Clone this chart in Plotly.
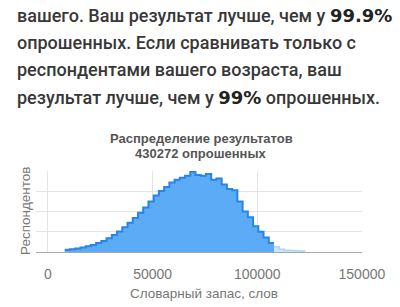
import plotly.graph_objects as go

# --- data (heights in gridline units; bins of 2500 words) ---
bin_width = 2500
main_start = 8000
main_heights = [0.11, 0.13, 0.17, 0.22, 0.28, 0.35, 0.44, 0.55, 0.68, 0.84,
                1.02, 1.22, 1.45, 1.68, 1.94, 2.2, 2.5, 2.8, 3.02, 3.22,
                3.44, 3.58, 3.68, 3.77, 3.97, 3.81, 3.77, 3.86, 3.58, 3.64,
                3.34, 3.12, 3.06, 2.5, 2.0, 1.72, 1.28, 1.0, 0.72, 0.45]
tail_start = 108000
tail_heights = [0.26, 0.14, 0.09, 0.07, 0.06, 0.05]
x_ticks = [0, 50000, 100000, 150000]
x_tick_labels = ["0", "50000", "100000", "150000"]
BIG = '<span style="font-family:\'DejaVu Sans\';font-weight:bold;color:#222">{}</span>'
paragraph = [
    "вашего. Ваш результат лучше, чем у " + BIG.format("99.9%"),
    "опрошенных. Если сравнивать только с",
    "респондентами вашего возраста, ваш",
    "результат лучше, чем у " + BIG.format("99%") + " опрошенных.",
]
chart_title = ["Распределение результатов", "430272 опрошенных"]
x_title = "Словарный запас, слов"
y_title = "Респондентов"


def steps(start, heights):
    xs = [start + i * bin_width for i in range(len(heights) + 1)]
    ys = list(heights) + [heights[-1]]
    return xs, ys


W, H = 400, 307
ml, mr, mt, mb = 36, 38, 171, 55

fig = go.Figure()
mx, my = steps(main_start, main_heights)
fig.add_trace(go.Scatter(x=mx, y=my, mode="lines", line_shape="hv",
                         fill="tozeroy", fillcolor="rgb(92,171,246)",
                         line=dict(color="rgb(40,132,232)", width=2),
                         hoverinfo="skip"))
tx, ty = steps(tail_start, tail_heights)
fig.add_trace(go.Scatter(x=tx, y=ty, mode="lines", line_shape="hv",
                         fill="tozeroy", fillcolor="rgb(205,228,250)",
                         line=dict(color="rgb(178,212,245)", width=1.5),
                         hoverinfo="skip"))

font_ui = "Liberation Sans, Arial, sans-serif"

annotations = []
for i, line in enumerate(paragraph):
    annotations.append(dict(
        text=line, xref="paper", yref="paper", xanchor="left", yanchor="middle",
        x=(15 - ml) / (W - ml - mr), y=(H - mb - (15 + 27.4 * i)) / (H - mt - mb),
        showarrow=False, align="left",
        font=dict(family="Roboto, Liberation Sans, sans-serif", size=18,
                  color="#383838", weight=500)))
for i, line in enumerate(chart_title):
    annotations.append(dict(
        text=f"<b>{line}</b>", xref="paper", yref="paper", xanchor="center",
        yanchor="middle", x=(201 - ml) / (W - ml - mr),
        y=(H - mb - (138.5 + 15 * i)) / (H - mt - mb),
        showarrow=False, font=dict(family=font_ui, size=13, color="#555555")))
annotations.append(dict(
    text=x_title, xref="paper", yref="paper", xanchor="center", yanchor="middle",
    x=(204 - ml) / (W - ml - mr), y=(H - mb - 293) / (H - mt - mb),
    showarrow=False, font=dict(family=font_ui, size=13.5, color="#777777")))
annotations.append(dict(
    text=y_title, xref="paper", yref="paper", xanchor="center", yanchor="middle",
    x=(25 - ml) / (W - ml - mr), y=(H - mb - 211) / (H - mt - mb), textangle=-90,
    showarrow=False, font=dict(family=font_ui, size=13.5, color="#777777")))

fig.update_layout(
    width=W, height=H,
    margin=dict(l=ml, r=mr, t=mt, b=mb, pad=0),
    paper_bgcolor="white", plot_bgcolor="white",
    showlegend=False,
    annotations=annotations,
    xaxis=dict(range=[-5730, 150050], tickvals=x_ticks, ticktext=x_tick_labels,
               showgrid=True, gridcolor="#e4e4e4", gridwidth=1, zeroline=False,
               showline=True, linecolor="#a8a8a8", linewidth=1,
               ticks="outside", ticklen=9, tickcolor="rgba(0,0,0,0)",
               tickfont=dict(family=font_ui, size=14, color="#777777"),
               fixedrange=True),
    yaxis=dict(range=[0, 4.01], dtick=1, showticklabels=False,
               showgrid=True, gridcolor="#e4e4e4", gridwidth=1, zeroline=False,
               fixedrange=True),
)

fig.write_html("out.html", config={"displayModeBar": False})
